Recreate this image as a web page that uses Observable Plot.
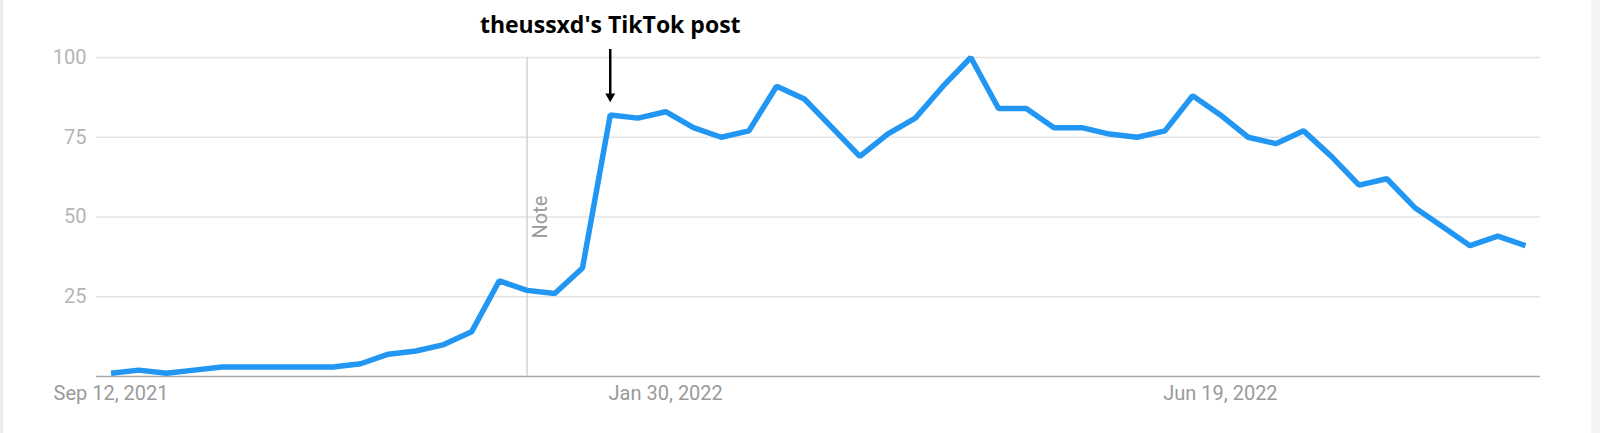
<!DOCTYPE html>
<html><head><meta charset="utf-8">
<script src="https://cdn.jsdelivr.net/npm/d3@7"></script>
<script src="https://cdn.jsdelivr.net/npm/@observablehq/plot@0.6"></script>
<style>
html,body{margin:0;padding:0;}
body{width:1600px;height:433px;overflow:hidden;background:linear-gradient(to right,#ececec 0,#ececec 3px,#fff 3px,#fff 1591px,#f4f4f4 1591px);}
#chart svg{display:block;}
</style></head><body><div id="chart"></div>
<script>
const weeks = [
  "2021-09-12","2021-09-19","2021-09-26","2021-10-03","2021-10-10","2021-10-17","2021-10-24","2021-10-31",
  "2021-11-07","2021-11-14","2021-11-21","2021-11-28","2021-12-05","2021-12-12","2021-12-19","2021-12-26",
  "2022-01-02","2022-01-09","2022-01-16","2022-01-23","2022-01-30","2022-02-06","2022-02-13","2022-02-20",
  "2022-02-27","2022-03-06","2022-03-13","2022-03-20","2022-03-27","2022-04-03","2022-04-10","2022-04-17",
  "2022-04-24","2022-05-01","2022-05-08","2022-05-15","2022-05-22","2022-05-29","2022-06-05","2022-06-12",
  "2022-06-19","2022-06-26","2022-07-03","2022-07-10","2022-07-17","2022-07-24","2022-07-31","2022-08-07",
  "2022-08-14","2022-08-21","2022-08-28","2022-09-04"
];
const interest = [
  1,2,1,2,3,3,3,3,3,4,
  7,8,10,14,30,27,26,34,82,81,
  83,78,75,77,91,87,78,69,76,81,
  91,100,84,84,78,78,76,75,77,88,
  82,75,73,77,69,60,62,53,47,41,
  44,41
];
const yTicks = [25, 50, 75, 100];
const xTicks = ["2021-09-12", "2022-01-30", "2022-06-19"];
const noteWeek = "2021-12-26";
const noteLabel = "Note";
const postWeek = "2022-01-16";
const postLabel = "theussxd's TikTok post";

const parse = d3.utcParse("%Y-%m-%d");
const data = weeks.map((w, i) => ({date: parse(w), value: interest[i]}));
const postValue = interest[weeks.indexOf(postWeek)];
const notes = [{date: parse(noteWeek), label: noteLabel}];
const posts = [{date: parse(postWeek), label: postLabel, value: postValue}];

const chart = Plot.plot({
  width: 1600,
  height: 433,
  marginLeft: 96,
  marginRight: 60,
  marginTop: 57,
  marginBottom: 57,
  style: {background: "transparent", fontFamily: "Roboto, sans-serif", overflow: "visible"},
  x: {type: "utc", domain: [data[0].date, data[data.length - 1].date], insetLeft: 14.5, insetRight: 15, label: null},
  y: {domain: [0, 100], label: null},
  marks: [
    Plot.ruleY(yTicks, {stroke: "#e3e3e3", strokeWidth: 1.5}),
    Plot.ruleY([0], {stroke: "#a8a8a8", strokeWidth: 1.5}),
    Plot.ruleX(notes, {x: "date", y1: 0, y2: 100, stroke: "#d2d2d2", strokeWidth: 1.5}),
    Plot.text(notes, {x: "date", y: 50, text: "label", rotate: -90, dx: 14, fontSize: 20, fill: "#9a9a9a", fontFamily: "Roboto"}),
    Plot.axisY(yTicks, {tickSize: 0, tickPadding: 10, fontSize: 20, fill: "#b5b5b5", label: null}),
    Plot.axisX(xTicks.map(parse), {tickSize: 0, tickPadding: 9, fontSize: 20, fill: "#9a9a9a", tickFormat: d3.utcFormat("%b %-d, %Y"), label: null}),
    Plot.line(data, {x: "date", y: "value", stroke: "#2196f3", strokeWidth: 5.5, strokeLinejoin: "miter", strokeLinecap: "butt"}),
    Plot.text(posts, {x: "date", y: 100, dy: -32, text: "label", fontFamily: "Open Sans", fontWeight: "bold", fontSize: 23, fill: "#000"}),
    Plot.ruleX(posts, {x: "date", y1: 100, y2: "value", insetTop: -8, insetBottom: 18, stroke: "#000", strokeWidth: 2.5}),
    Plot.dot(posts, {x: "date", y: "value", symbol: "triangle", rotate: 180, r: 3.7, fill: "#000", stroke: "none", dy: -18.5})
  ]
});
document.getElementById("chart").append(chart);
</script>
</body></html>
